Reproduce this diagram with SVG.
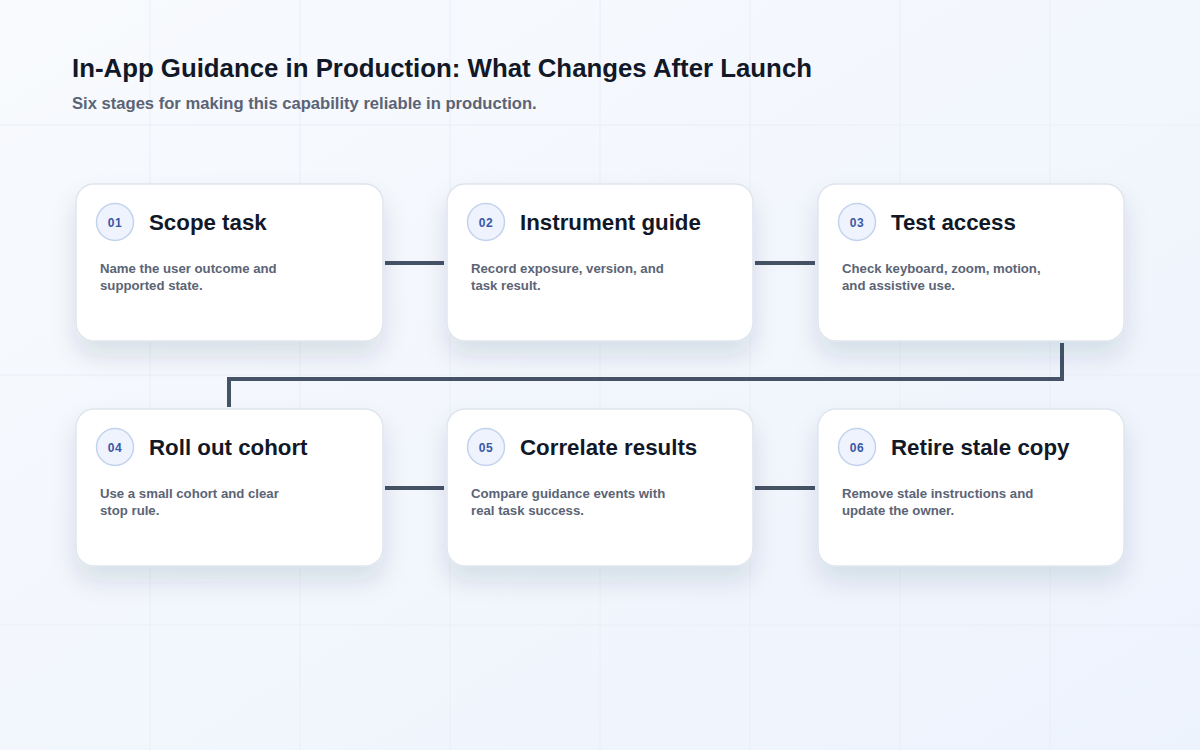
<svg xmlns="http://www.w3.org/2000/svg" width="1200" height="750" viewBox="0 0 1200 750">
<defs>
<linearGradient id="bg" x1="0" y1="0" x2="1" y2="1">
<stop offset="0" stop-color="#f8fafd"/>
<stop offset="1" stop-color="#edf3fd"/>
</linearGradient>
<filter id="sh" x="-20%" y="-20%" width="140%" height="170%">
<feDropShadow dx="0" dy="14" stdDeviation="12" flood-color="#1e2a4a" flood-opacity="0.12"/>
</filter>
<style>
.card{fill:#ffffff;stroke:#dfe5ee;stroke-width:1.5}
.num{fill:#eef3fd;stroke:#c3d3ee;stroke-width:1.5}
.numt{font-family:"Liberation Sans",Arial,sans-serif;font-size:12px;font-weight:700;fill:#3a57a6;text-anchor:middle;letter-spacing:0.5px}
.title{font-family:"Liberation Sans",Arial,sans-serif;font-size:22.3px;font-weight:700;fill:#111827}
.desc{font-family:"Liberation Sans",Arial,sans-serif;font-size:13.2px;font-weight:700;fill:#5b6475}
.conn{fill:none;stroke:#465366;stroke-width:4}
.grid{stroke:#eaeef5;stroke-width:1}
</style>
</defs>
<rect width="1200" height="750" fill="url(#bg)"/>
<g id="grid">
<line class="grid" x1="150" y1="0" x2="150" y2="750"/>
<line class="grid" x1="300" y1="0" x2="300" y2="750"/>
<line class="grid" x1="450" y1="0" x2="450" y2="750"/>
<line class="grid" x1="600" y1="0" x2="600" y2="750"/>
<line class="grid" x1="750" y1="0" x2="750" y2="750"/>
<line class="grid" x1="900" y1="0" x2="900" y2="750"/>
<line class="grid" x1="1050" y1="0" x2="1050" y2="750"/>
<line class="grid" x1="0" y1="125" x2="1200" y2="125"/>
<line class="grid" x1="0" y1="375" x2="1200" y2="375"/>
<line class="grid" x1="0" y1="625" x2="1200" y2="625"/>
</g>
<g id="header">
<text x="72" y="77" font-family="'Liberation Sans',Arial,sans-serif" font-size="25.8" font-weight="700" fill="#111827">In-App Guidance in Production: What Changes After Launch</text>
<text x="72" y="109" font-family="'Liberation Sans',Arial,sans-serif" font-size="16.6" font-weight="700" fill="#5b6475">Six stages for making this capability reliable in production.</text>
</g>
<g id="connectors">
<line class="conn" x1="385" y1="263" x2="444" y2="263"/>
<line class="conn" x1="755" y1="263" x2="815" y2="263"/>
<polyline class="conn" points="1062,343 1062,379 229,379 229,407"/>
<line class="conn" x1="385" y1="488" x2="444" y2="488"/>
<line class="conn" x1="755" y1="488" x2="815" y2="488"/>
</g>
<g id="node1">
<rect class="card" x="76" y="184" width="307" height="157" rx="18" filter="url(#sh)"/>
<circle class="num" cx="115" cy="222" r="18.5"/>
<text class="numt" x="115" y="226.5">01</text>
<text class="title" x="149" y="229.5">Scope task</text>
<text class="desc" x="100" y="273">Name the user outcome and</text>
<text class="desc" x="100" y="290">supported state.</text>
</g>
<g id="node2">
<rect class="card" x="447" y="184" width="306" height="157" rx="18" filter="url(#sh)"/>
<circle class="num" cx="486" cy="222" r="18.5"/>
<text class="numt" x="486" y="226.5">02</text>
<text class="title" x="520" y="229.5">Instrument guide</text>
<text class="desc" x="471" y="273">Record exposure, version, and</text>
<text class="desc" x="471" y="290">task result.</text>
</g>
<g id="node3">
<rect class="card" x="818" y="184" width="306" height="157" rx="18" filter="url(#sh)"/>
<circle class="num" cx="857" cy="222" r="18.5"/>
<text class="numt" x="857" y="226.5">03</text>
<text class="title" x="891" y="229.5">Test access</text>
<text class="desc" x="842" y="273">Check keyboard, zoom, motion,</text>
<text class="desc" x="842" y="290">and assistive use.</text>
</g>
<g id="node4">
<rect class="card" x="76" y="409" width="307" height="157" rx="18" filter="url(#sh)"/>
<circle class="num" cx="115" cy="447" r="18.5"/>
<text class="numt" x="115" y="451.5">04</text>
<text class="title" x="149" y="454.5">Roll out cohort</text>
<text class="desc" x="100" y="498">Use a small cohort and clear</text>
<text class="desc" x="100" y="515">stop rule.</text>
</g>
<g id="node5">
<rect class="card" x="447" y="409" width="306" height="157" rx="18" filter="url(#sh)"/>
<circle class="num" cx="486" cy="447" r="18.5"/>
<text class="numt" x="486" y="451.5">05</text>
<text class="title" x="520" y="454.5">Correlate results</text>
<text class="desc" x="471" y="498">Compare guidance events with</text>
<text class="desc" x="471" y="515">real task success.</text>
</g>
<g id="node6">
<rect class="card" x="818" y="409" width="306" height="157" rx="18" filter="url(#sh)"/>
<circle class="num" cx="857" cy="447" r="18.5"/>
<text class="numt" x="857" y="451.5">06</text>
<text class="title" x="891" y="454.5">Retire stale copy</text>
<text class="desc" x="842" y="498">Remove stale instructions and</text>
<text class="desc" x="842" y="515">update the owner.</text>
</g>
</svg>
